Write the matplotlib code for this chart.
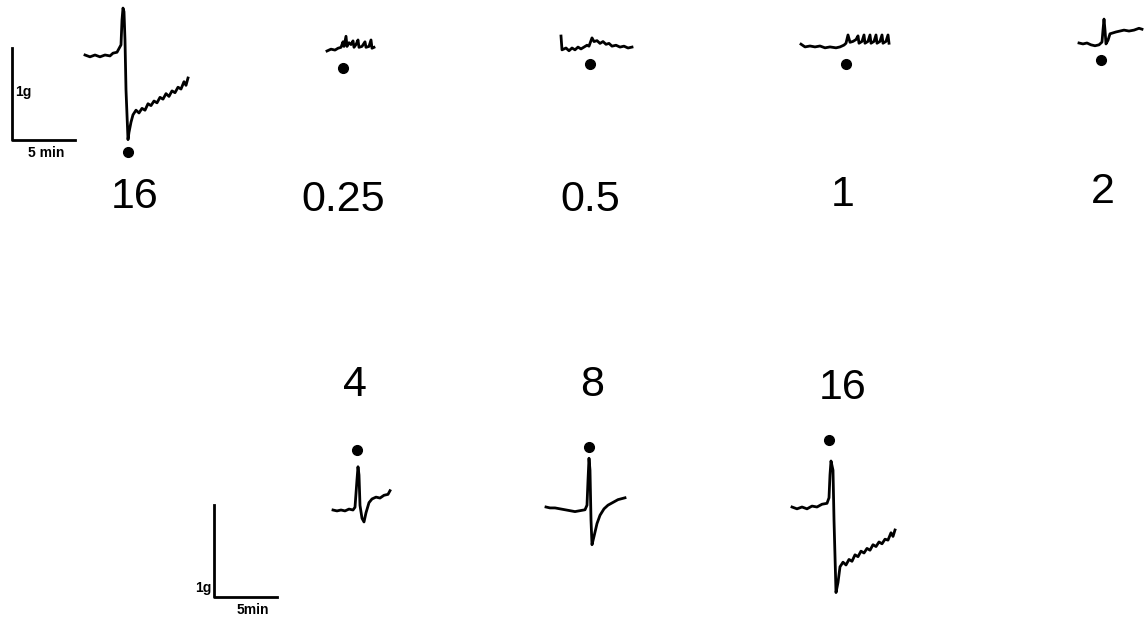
import numpy as np
import matplotlib; matplotlib.use('Agg')
import matplotlib.pyplot as plt
from matplotlib.transforms import Affine2D

plt.rcParams['font.family'] = ['Liberation Sans', 'DejaVu Sans']

# Isometric tension records: time (min) from start of each trace, tension (g) from baseline
t_16a = [0, 0.40, 0.80, 1.20, 1.60, 2.00, 2.24, 2.56, 2.72, 2.88, 2.96, 3.04, 3.12, 3.20,
         3.28, 3.44, 3.52, 3.68, 3.84, 4.08, 4.32, 4.56, 4.80, 5.04, 5.28, 5.52, 5.76, 6.00,
         6.24, 6.48, 6.72, 6.96, 7.20, 7.44, 7.68, 7.92, 8.08, 8.24]
g_16a = [0, -0.02, 0, -0.02, 0, -0.01, 0.02, 0.03, 0.07, 0.11, 0.38, 0.51, 0.47, 0.16,
         -0.38, -0.92, -0.84, -0.73, -0.65, -0.60, -0.63, -0.58, -0.60, -0.53, -0.55, -0.50,
         -0.52, -0.46, -0.48, -0.42, -0.45, -0.39, -0.41, -0.35, -0.37, -0.29, -0.33, -0.25]

t_025 = [0, 0.32, 0.64, 0.88, 1.12, 1.28, 1.36, 1.52, 1.60, 1.76, 1.92, 2.08, 2.16, 2.32,
         2.48, 2.56, 2.80, 3.04, 3.12, 3.36, 3.52, 3.60, 3.76]
g_025 = [0, 0.02, 0.01, 0.03, 0.04, 0.10, 0.05, 0.16, 0.05, 0.09, 0.07, 0.11, 0.04, 0.07,
         0.12, 0.04, 0.05, 0.10, 0.04, 0.05, 0.12, 0.03, 0.04]

t_05 = [0, 0.08, 0.40, 0.64, 0.88, 1.12, 1.36, 1.60, 1.84, 2.08, 2.24, 2.48, 2.64, 2.88,
        3.12, 3.36, 3.60, 3.84, 4.08, 4.40, 4.72, 5.04, 5.36, 5.68]
g_05 = [0.13, -0.02, 0, -0.03, 0, -0.02, 0.01, -0.01, 0.01, 0.03, 0.02, 0.11, 0.07, 0.08,
        0.05, 0.07, 0.04, 0.05, 0.02, 0.03, 0.01, 0.02, 0, 0.01]

t_1 = [0, 0.32, 0.72, 1.12, 1.52, 1.92, 2.32, 2.80, 3.12, 3.44, 3.60, 3.76, 3.92, 4.16,
       4.40, 4.56, 4.64, 4.88, 5.04, 5.12, 5.36, 5.52, 5.60, 5.84, 6.00, 6.08, 6.32, 6.48,
       6.56, 6.80, 6.96, 7.04]
g_1 = [0.02, -0.01, 0, -0.01, 0, -0.02, -0.01, -0.02, -0.01, 0.01, 0.03, 0.12, 0.04, 0.05,
       0.07, 0.11, 0.03, 0.05, 0.12, 0.03, 0.05, 0.12, 0.03, 0.05, 0.12, 0.03, 0.05, 0.12,
       0.03, 0.05, 0.12, 0.03]

t_2 = [0, 0.32, 0.64, 0.96, 1.28, 1.60, 1.84, 1.92, 2.00, 2.08, 2.16, 2.32, 2.48, 2.72,
       2.96, 3.28, 3.60, 4.00, 4.40, 4.80, 5.04]
g_2 = [0, -0.01, 0, -0.02, -0.03, -0.02, 0.01, 0.14, 0.26, 0.14, -0.01, 0.03, 0.10, 0.11,
       0.12, 0.13, 0.14, 0.13, 0.14, 0.16, 0.15]

t_4 = [0, 0.32, 0.64, 0.96, 1.28, 1.60, 1.76, 1.92, 2.00, 2.08, 2.16, 2.32, 2.48, 2.64,
       2.88, 3.12, 3.44, 3.76, 4.08, 4.40, 4.56]
g_4 = [0, -0.01, 0, -0.01, 0.01, 0, 0.03, 0.33, 0.47, 0.38, 0.05, -0.09, -0.13, -0.03,
       0.08, 0.12, 0.14, 0.13, 0.16, 0.17, 0.21]

t_8 = [0, 0.32, 0.72, 1.12, 1.52, 1.92, 2.32, 2.72, 3.12, 3.28, 3.36, 3.44, 3.52, 3.60,
       3.68, 3.84, 4.08, 4.32, 4.64, 4.96, 5.36, 5.76, 6.32]
g_8 = [0, -0.01, -0.01, -0.02, -0.03, -0.04, -0.05, -0.04, -0.03, 0.02, 0.29, 0.53, 0.40,
       -0.14, -0.41, -0.32, -0.18, -0.09, -0.02, 0.02, 0.05, 0.08, 0.10]

t_16b = [0, 0.40, 0.80, 1.20, 1.60, 2.00, 2.40, 2.80, 2.96, 3.04, 3.12, 3.28, 3.36, 3.52,
         3.68, 3.84, 4.08, 4.32, 4.56, 4.80, 5.04, 5.28, 5.52, 5.76, 6.00, 6.24, 6.48, 6.72,
         6.96, 7.20, 7.44, 7.68, 7.92, 8.08, 8.24]
g_16b = [0, -0.02, 0, -0.02, 0.01, 0, 0.03, 0.04, 0.10, 0.35, 0.50, 0.40, -0.14, -0.93,
         -0.82, -0.65, -0.60, -0.63, -0.57, -0.59, -0.52, -0.54, -0.48, -0.50, -0.45, -0.47,
         -0.41, -0.43, -0.38, -0.40, -0.35, -0.36, -0.28, -0.32, -0.25]

# concentration labels and time of drug addition (min) on each trace
doses_top = ['16', '0.25', '0.5', '1', '2']
doses_bottom = ['4', '8', '16']
t_add_top = [3.44, 1.28, 2.32, 3.60, 1.76]
t_add_bottom = [1.92, 3.44, 2.96]

PX_MIN = 12.5   # pixels per minute on the chart paper
PX_G = 92.0     # pixels per gram
LW = 2.0

fig = plt.figure(figsize=(11.45, 6.2), dpi=100)
ax = fig.add_axes([0, 0, 1, 1])
ax.set_xlim(0, 1145)
ax.set_ylim(620, 0)
ax.axis('off')


def paper(x0, y0):
    # (min, g) -> page pixels, trace starting at x0, y0
    return Affine2D().scale(PX_MIN, -PX_G).translate(x0, y0) + ax.transData


traces_top = [(t_16a, g_16a), (t_025, g_025), (t_05, g_05), (t_1, g_1), (t_2, g_2)]
traces_bottom = [(t_4, g_4), (t_8, g_8), (t_16b, g_16b)]

origin_top = [(85, 55), (327, 51), (561, 48), (801, 46), (1079, 43)]
dot_y_top = [152, 68, 64, 64, 60]
label_xy_top = [(135, 197), (343, 200), (590, 200), (843, 195), (1103, 192)]

origin_bottom = [(333, 510), (546, 507), (792, 507)]
dot_y_bottom = [450, 447, 440]
label_xy_bottom = [(355, 385), (592, 385), (843, 388)]

for (t, g), (x0, y0), ta, dy, dose, (lx, ly) in zip(
        traces_top + traces_bottom, origin_top + origin_bottom,
        t_add_top + t_add_bottom, dot_y_top + dot_y_bottom,
        doses_top + doses_bottom, label_xy_top + label_xy_bottom):
    ax.plot(t, g, color='black', lw=LW, solid_joinstyle='round', transform=paper(x0, y0))
    ax.plot(x0 + ta * PX_MIN, dy, 'o', color='black', ms=7)
    ax.text(lx, ly, dose, fontsize=31, ha='center', va='center', color='black')

# calibration bars: 1 g vertical, 5 min horizontal
ax.plot([0, 0, 5], [1, 0, 0], color='black', lw=LW, transform=paper(12, 140))
ax.text(15, 140 - 0.52 * PX_G, '1g', fontsize=10, fontweight='bold', ha='left', va='center')
ax.text(12 + 2.7 * PX_MIN, 153, '5 min', fontsize=10, fontweight='bold', ha='center', va='center')

ax.plot([0, 0, 5], [1, 0, 0], color='black', lw=LW, transform=paper(214, 597))
ax.text(212, 597 - 0.1 * PX_G, '1g', fontsize=10, fontweight='bold', ha='right', va='center')
ax.text(214 + 3.1 * PX_MIN, 610, '5min', fontsize=10, fontweight='bold', ha='center', va='center')

fig.savefig('out.png', dpi=100, facecolor='white')
